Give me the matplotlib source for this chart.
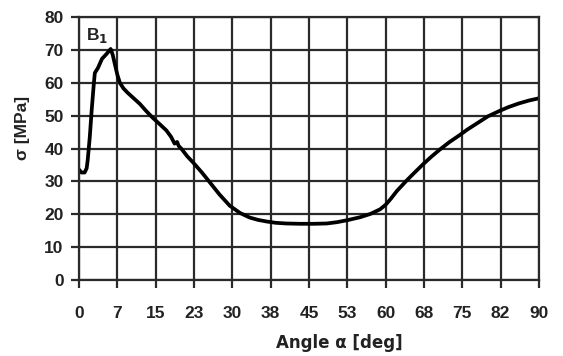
import matplotlib
matplotlib.use('Agg')
import matplotlib.pyplot as plt

# stress vs. angle
angle = [0.0, 0.5, 1.1, 1.5, 1.7, 2.1, 2.5, 2.9, 3.1, 3.7, 4.5, 5.4, 6.2,
         6.6, 7.0, 7.5, 8.0, 8.7, 9.5, 10.7, 11.9, 13.1, 14.4, 15.8, 17.1,
         18.0, 18.7, 19.2, 19.5, 20.0, 21.2, 22.3, 24.0, 25.6, 27.5, 29.5,
         31.5, 33.4, 35.0, 36.7, 38.5, 40.5, 43.2, 46.0, 48.5, 50.5, 52.5,
         55.0, 57.0, 58.9, 60.0, 61.0, 62.2, 64.0, 65.4, 67.3, 69.0, 70.6,
         72.5, 74.4, 76.0, 78.0, 80.0, 82.2, 84.0, 86.0, 88.0, 90.0]
stress = [33.6, 32.7, 32.7, 34.0, 36.4, 43.3, 52.0, 59.7, 63.0, 64.5, 67.3,
          68.8, 70.3, 68.5, 65.8, 62.5, 60.0, 58.3, 57.0, 55.3, 53.6, 51.5,
          49.4, 47.4, 45.5, 43.6, 41.5, 42.0, 40.8, 40.0, 37.6, 35.8, 32.8,
          29.7, 26.0, 22.6, 20.4, 19.0, 18.3, 17.8, 17.4, 17.2, 17.1, 17.1,
          17.2, 17.6, 18.2, 19.1, 20.1, 21.5, 22.9, 24.7, 27.1, 30.1, 32.3,
          35.2, 37.6, 39.7, 42.0, 44.0, 45.8, 47.8, 49.8, 51.4, 52.6, 53.7,
          54.6, 55.3]

xticks = [0, 7.5, 15, 22.5, 30, 37.5, 45, 52.5, 60, 67.5, 75, 82.5, 90]
xtick_labels = ['0', '7', '15', '23', '30', '38', '45', '53', '60', '68',
                '75', '82', '90']
yticks = [0, 10, 20, 30, 40, 50, 60, 70, 80]

plt.rcParams['font.family'] = ['Liberation Sans', 'DejaVu Sans']
ink = '#222222'

fig = plt.figure(figsize=(5.63, 3.56), dpi=100)
ax = fig.add_axes([0.1403, 0.2135, 0.8171, 0.7385])

ax.plot(angle, stress, color='black', linewidth=2.7,
        solid_joinstyle='round', solid_capstyle='round')

ax.set_xlim(0, 90)
ax.set_ylim(0, 80)
ax.set_xticks(xticks)
ax.set_xticklabels(xtick_labels)
ax.set_yticks(yticks)

ax.grid(True, color='#2a2a2a', linewidth=1.6)
ax.set_axisbelow(True)
for s in ax.spines.values():
    s.set_color('#2a2a2a')
    s.set_linewidth(1.6)

ax.tick_params(axis='x', length=6, width=1.6, color='#2a2a2a', pad=13,
               labelsize=12.5, labelcolor=ink)
ax.tick_params(axis='y', length=6, width=1.6, color='#2a2a2a', pad=5,
               labelsize=12.5, labelcolor=ink)
for lab in ax.get_xticklabels() + ax.get_yticklabels():
    lab.set_fontweight('bold')

# axis titles placed where they sit in the original
fig.text(339 / 563, 1 - 343 / 356, 'Angle \u03b1 [deg]', fontsize=12,
         fontweight='bold', color=ink, family='DejaVu Sans',
         ha='center', va='center')
fig.text(23 / 563, 1 - 128 / 356, '\u03c3 [MPa]', fontsize=12.5,
         fontweight='bold', color=ink, rotation=90,
         ha='center', va='center')

ax.text(1.3, 74.5, r'B$_\mathbf{1}$', fontsize=12.5, fontweight='bold',
        color=ink, ha='left', va='center')

fig.savefig('out.png', dpi=100)
